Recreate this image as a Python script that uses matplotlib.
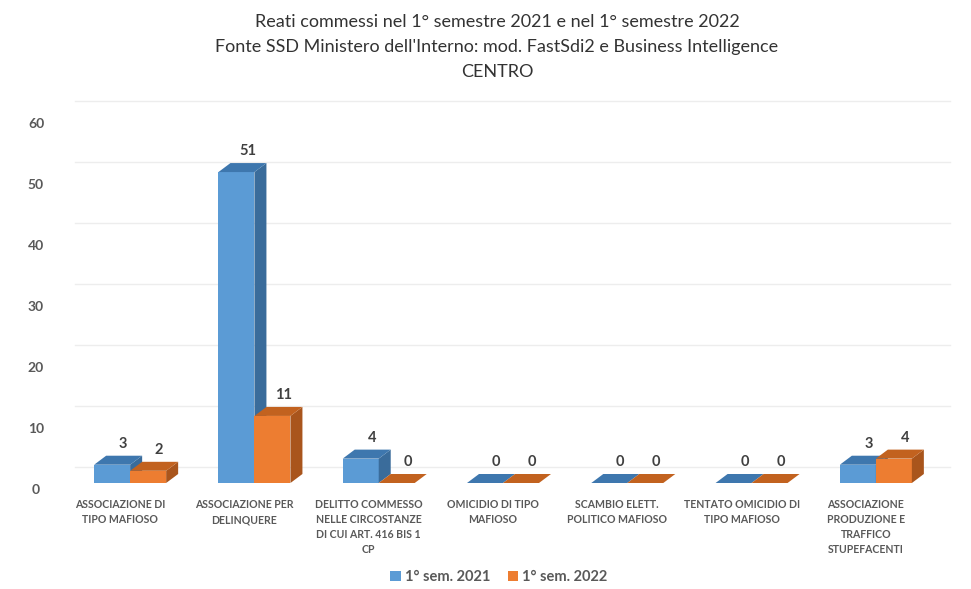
import matplotlib
matplotlib.use("Agg")
import matplotlib.pyplot as plt
from matplotlib.patches import Polygon, Patch

categories = [
    "ASSOCIAZIONE DI\nTIPO MAFIOSO",
    "ASSOCIAZIONE PER\nDELINQUERE",
    "DELITTO COMMESSO\nNELLE CIRCOSTANZE\nDI CUI ART. 416 BIS 1\nCP",
    "OMICIDIO DI TIPO\nMAFIOSO",
    "SCAMBIO ELETT.\nPOLITICO MAFIOSO",
    "TENTATO OMICIDIO DI\nTIPO MAFIOSO",
    "ASSOCIAZIONE\nPRODUZIONE E\nTRAFFICO\nSTUPEFACENTI",
]
sem_2021 = [3, 51, 4, 0, 0, 0, 3]
sem_2022 = [2, 11, 0, 0, 0, 0, 4]
series_names = ["1° sem. 2021", "1° sem. 2022"]
y_ticks = [0, 10, 20, 30, 40, 50, 60]
title_lines = [
    "Reati commessi nel 1° semestre 2021 e nel 1° semestre 2022",
    "Fonte SSD Ministero dell'Interno: mod. FastSdi2 e Business Intelligence",
    "CENTRO",
]

FONT = ["Lato", "DejaVu Sans"]
plt.rcParams["font.family"] = FONT

W, H = 971, 589
fig = plt.figure(figsize=(W / 100, H / 100), dpi=100)
fig.patch.set_facecolor("white")

ax_left, ax_right, ax_bottom_px, ax_top_px = 58, 928, 483, 105
ymax = 62
ax = fig.add_axes([ax_left / W, (H - ax_bottom_px) / H,
                   (ax_right - ax_left) / W, (ax_bottom_px - ax_top_px) / H])
ax.set_xlim(-0.5, len(categories) - 0.5)
ax.set_ylim(0, ymax)
ax.axis("off")

px_x = (ax_right - ax_left) / len(categories)   # pixels per category unit
px_y = (ax_bottom_px - ax_top_px) / ymax         # pixels per value unit

# back-wall gridlines
gdx, gdy = 22 / px_x, 16 / px_y
for t in y_ticks:
    ax.plot([-0.5 + 0.14, len(categories) - 0.5 + gdx], [t + gdy, t + gdy],
            color="#EDEDED", lw=1.0, zorder=0, clip_on=False)

# y tick labels
for t in y_ticks:
    ax.text(-0.5 - 22 / px_x, t - 7 / px_y, str(t), ha="center", va="center",
            fontsize=10, fontweight="bold", color="#595959", clip_on=False)

bw = 36 / px_x
ddx, ddy = 12 / px_x, 9 / px_y
shift = 10 / px_x

colors = [
    ("#5B9BD5", "#3E77AE", "#3A6C9B"),
    ("#ED7D31", "#C2621F", "#A9551C"),
]

def draw_bar(x0, v, cols, z):
    front, top, side = cols
    if v > 0:
        ax.add_patch(Polygon([(x0, 0), (x0 + bw, 0), (x0 + bw, v), (x0, v)],
                             closed=True, facecolor=front, edgecolor="none", zorder=z))
        ax.add_patch(Polygon([(x0 + bw, 0), (x0 + bw + ddx, ddy), (x0 + bw + ddx, v + ddy), (x0 + bw, v)],
                             closed=True, facecolor=side, edgecolor="none", zorder=z))
    ax.add_patch(Polygon([(x0, v), (x0 + bw, v), (x0 + bw + ddx, v + ddy), (x0 + ddx, v + ddy)],
                         closed=True, facecolor=top, edgecolor="none", zorder=z))
    ax.text(x0 + bw / 2 + 11 / px_x, v + ddy + 5 / px_y, str(v), ha="center", va="bottom",
            fontsize=10.5, fontweight="bold", color="#404040", zorder=10)

for i in range(len(categories)):
    c = i + shift
    draw_bar(c - bw, sem_2021[i], colors[0], 2 + i * 2)
    draw_bar(c, sem_2022[i], colors[1], 3 + i * 2)

# category labels
for i, lab in enumerate(categories):
    ax.text(i, -16 / px_y, lab, ha="center", va="top", fontsize=7.6,
            fontweight="bold", color="#595959", linespacing=1.45, clip_on=False)

# title
for k, line in enumerate(title_lines):
    fig.text(497 / W, 1 - (22 + 25 * k) / H, line, ha="center", va="center",
             fontsize=13, color="#333333")

# legend
handles = [Patch(facecolor=colors[0][0], edgecolor="none"),
           Patch(facecolor=colors[1][0], edgecolor="none")]
leg = fig.legend(handles, series_names, loc="center", bbox_to_anchor=(499 / W, 1 - 577 / H),
                 ncol=2, frameon=False, handlelength=0.7, handleheight=0.7,
                 handletextpad=0.3, columnspacing=1.2,
                 prop={"size": 10.5, "weight": "bold", "family": FONT})
for t in leg.get_texts():
    t.set_color("#595959")

fig.savefig("out.png", dpi=100, facecolor="white")
